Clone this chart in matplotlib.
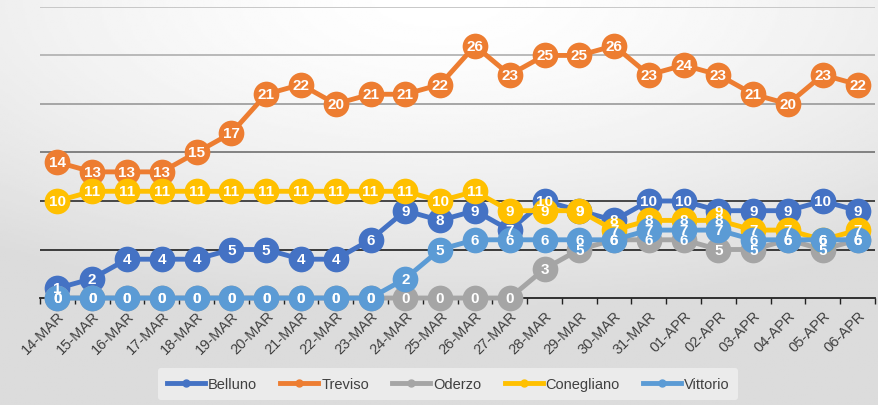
import numpy as np
import matplotlib.pyplot as plt
from matplotlib.lines import Line2D

plt.rcParams["font.family"] = ["Liberation Sans Narrow", "Liberation Sans", "DejaVu Sans"]

dates = ["14-MAR", "15-MAR", "16-MAR", "17-MAR", "18-MAR", "19-MAR", "20-MAR", "21-MAR",
         "22-MAR", "23-MAR", "24-MAR", "25-MAR", "26-MAR", "27-MAR", "28-MAR", "29-MAR",
         "30-MAR", "31-MAR", "01-APR", "02-APR", "03-APR", "04-APR", "05-APR", "06-APR"]

belluno = [1, 2, 4, 4, 4, 5, 5, 4, 4, 6, 9, 8, 9, 7, 10, 9, 8, 10, 10, 9, 9, 9, 10, 9]
treviso = [14, 13, 13, 13, 15, 17, 21, 22, 20, 21, 21, 22, 26, 23, 25, 25, 26, 23, 24, 23, 21, 20, 23, 22]
oderzo = [0, 0, 0, 0, 0, 0, 0, 0, 0, 0, 0, 0, 0, 0, 3, 5, 6, 6, 6, 5, 5, 6, 5, 6]
conegliano = [10, 11, 11, 11, 11, 11, 11, 11, 11, 11, 11, 10, 11, 9, 9, 9, 7, 8, 8, 8, 7, 7, 6, 7]
vittorio = [0, 0, 0, 0, 0, 0, 0, 0, 0, 0, 2, 5, 6, 6, 6, 6, 6, 7, 7, 7, 6, 6, 6, 6]

series = [
    ("Belluno", belluno, "#4472C4"),
    ("Treviso", treviso, "#ED7D31"),
    ("Oderzo", oderzo, "#A5A5A5"),
    ("Conegliano", conegliano, "#FFC000"),
    ("Vittorio", vittorio, "#5B9BD5"),
]

fig = plt.figure(figsize=(8.79, 4.06), dpi=100)

# soft grey gradient background like the original Excel chart
bg = fig.add_axes([0, 0, 1, 1], zorder=-10)
yy, xx = np.mgrid[0:1:200j, 0:1:400j]
r = np.sqrt((xx - 0.5) ** 2 + (yy * 1.1) ** 2)
shade = 1 - 0.14 * np.clip(r / 0.85, 0, 1) ** 1.5
bg.imshow(shade, cmap="gray", vmin=0, vmax=1, aspect="auto", extent=[0, 1, 0, 1], origin="upper")
bg.axis("off")

ax = fig.add_axes([0.0455, 0.2635, 0.95, 0.717])
ax.patch.set_alpha(0)
x = np.arange(len(dates))

# gridlines get darker towards the bottom in the source image
grid_levels = [5, 10, 15, 20, 25, 30]
grid_colors = ["#2e2e2e", "#3a3a3a", "#7a7a7a", "#a0a0a0", "#b4b4b4", "#c4c4c4"]
for lev, c in zip(grid_levels, grid_colors):
    ax.axhline(lev, color=c, lw=1.3, zorder=1)

for i, (name, vals, col) in enumerate(series):
    ax.plot(x, vals, color=col, lw=3.5, marker="o", ms=18.5, mec=col, mew=0,
            zorder=3 + i, clip_on=False, label=name)

for name, vals, col in series:
    for xi, v in zip(x, vals):
        ax.text(xi, v, str(v), color="white", fontweight="bold", ha="center", va="center",
                fontsize=11, zorder=20, clip_on=False)

ax.set_xlim(-0.5, len(dates) - 0.5)
ax.set_ylim(0, 30)
ax.set_yticks([])
for s in ["top", "right", "left"]:
    ax.spines[s].set_visible(False)
ax.spines["bottom"].set_color("#222222")
ax.spines["bottom"].set_linewidth(1.3)
ax.spines["bottom"].set_zorder(2)

ax.set_xticks(x)
ax.set_xticklabels(dates, rotation=45, ha="right", rotation_mode="anchor",
                   fontsize=10.5, color="#404040")
ax.tick_params(axis="x", which="major", length=0, pad=7)
ax.set_xticks(np.arange(-0.5, len(dates), 1), minor=True)
ax.tick_params(axis="x", which="minor", length=4, width=1, color="#222222", direction="out")

handles = [Line2D([], [], color=col, lw=3.5, marker="o", ms=5) for _, _, col in series]
leg = fig.legend(handles, [s[0] for s in series], loc="center", bbox_to_anchor=(0.51, 0.052),
                 ncol=5, frameon=True, fontsize=10.5, handlelength=2.6, handletextpad=0.2,
                 columnspacing=1.6, borderpad=0.6)
leg.get_frame().set_facecolor("#f0f0f0")
leg.get_frame().set_edgecolor("none")
for t in leg.get_texts():
    t.set_color("#404040")

fig.savefig("out.png", dpi=100)
